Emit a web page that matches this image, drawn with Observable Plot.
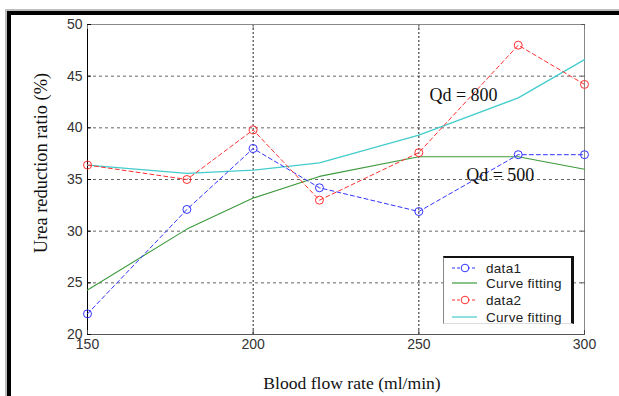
<!DOCTYPE html>
<html>
<head>
<meta charset="utf-8">
<script src="https://cdn.jsdelivr.net/npm/d3@7"></script>
<script src="https://cdn.jsdelivr.net/npm/@observablehq/plot@0.6"></script>
<style>
  html, body { margin: 0; padding: 0; background: #fff; }
  #wrap { position: relative; width: 619px; height: 396px; overflow: hidden; background: #fff; }
  #wrap svg { position: absolute; left: 0; top: 0; }
  .frame-gray { position: absolute; left: 5px; top: 9px; right: -10px; bottom: -10px; border-top: 2px solid #bdbdbd; border-left: 2px solid #bdbdbd; }
  .frame-black { position: absolute; left: 7px; top: 11px; right: -10px; bottom: -10px; border-top: 4px solid #000; border-left: 4px solid #000; }
  .lbl { position: absolute; font-family: "Liberation Serif", "Times New Roman", serif; color: #111; white-space: nowrap; }
  #legend { position: absolute; left: 443px; top: 256px; width: 131px; height: 68px; background: #fff;
            border-top: 2px solid #111; border-right: 3px solid #111; border-left: 1px solid #888; border-bottom: 1px solid #ddd; box-sizing: border-box; }
  .row { position: absolute; left: 0; height: 16px; display: flex; align-items: center; }
  .row span { font-family: "Liberation Sans", Arial, sans-serif; font-size: 13.5px; color: #222; margin-left: 8px; letter-spacing: 0.3px; }
</style>
</head>
<body>
<div id="wrap">
  <div class="frame-gray"></div>
  <div class="frame-black"></div>
</div>
<script>
// ---- data ----
const flowRates = [150, 180, 200, 220, 250, 280, 300];
const data1 = [22.0, 32.1, 38.0, 34.2, 31.9, 37.4, 37.4];      // Qd = 500 measured
const fit1  = [24.3, 30.2, 33.2, 35.3, 37.2, 37.2, 36.0];      // Qd = 500 curve fitting
const data2 = [36.4, 35.0, 39.8, 33.0, 37.6, 48.0, 44.2];      // Qd = 800 measured
const fit2  = [36.4, 35.6, 35.9, 36.6, 39.3, 42.9, 46.6];      // Qd = 800 curve fitting
const xTicks = [150, 200, 250, 300];
const yTicks = [20, 25, 30, 35, 40, 45, 50];
const xGrid = [200, 250];
const yGrid = [25, 30, 35, 40, 45];
const legendLabels = ["data1", "Curve fitting", "data2", "Curve fitting"];
const annotations = ["Qd = 800", "Qd = 500"];

const blue = "#3333ff", red = "#ff3030", green = "#3d9a3d", cyan = "#44cccc";

const rows = (ys) => flowRates.map((x, i) => ({x, y: ys[i]}));
const d1 = rows(data1), f1 = rows(fit1), d2 = rows(data2), f2 = rows(fit2);

const chart = Plot.plot({
  width: 619,
  height: 396,
  marginLeft: 87,
  marginRight: 35,
  marginTop: 24,
  marginBottom: 62,
  style: {background: "transparent", fontFamily: "Liberation Sans, Arial, sans-serif", fontSize: "14px", color: "#333"},
  x: {domain: [150, 300], label: null},
  y: {domain: [20, 50], label: null},
  marks: [
    Plot.gridY(yGrid, {stroke: "#666", strokeOpacity: 1, strokeDasharray: "3,3"}),
    Plot.gridX(xGrid, {stroke: "#222", strokeOpacity: 1, strokeDasharray: "2,2"}),
    Plot.ruleY([50], {stroke: "#888"}),
    Plot.ruleX([300], {stroke: "#888"}),
    Plot.ruleY([20], {stroke: "#555"}),
    Plot.ruleX([150], {stroke: "#000"}),
    Plot.axisX(xTicks, {anchor: "bottom", tickSize: 0, tickPadding: 5, fill: "#333", label: null}),
    Plot.axisX(xTicks, {anchor: "bottom", tickSize: -4, text: null, stroke: "#444", label: null}),
    Plot.axisX(xTicks, {anchor: "top", tickSize: -4, text: null, stroke: "#777", label: null}),
    Plot.axisY(yTicks, {anchor: "left", tickSize: 0, tickPadding: 5, fill: "#333", label: null}),
    Plot.axisY(yTicks, {anchor: "left", tickSize: -4, text: null, stroke: "#000", label: null}),
    Plot.axisY(yTicks, {anchor: "right", tickSize: -4, text: null, stroke: "#555", label: null}),
    Plot.line(f1, {x: "x", y: "y", stroke: green, strokeWidth: 1.1}),
    Plot.line(f2, {x: "x", y: "y", stroke: cyan, strokeWidth: 1.3}),
    Plot.line(d1, {x: "x", y: "y", stroke: blue, strokeWidth: 1, strokeDasharray: "4,3"}),
    Plot.dot(d1, {x: "x", y: "y", stroke: blue, r: 4, strokeWidth: 1}),
    Plot.line(d2, {x: "x", y: "y", stroke: red, strokeWidth: 1, strokeDasharray: "4,3"}),
    Plot.dot(d2, {x: "x", y: "y", stroke: red, r: 4, strokeWidth: 1}),
    Plot.text([annotations[0]], {x: 253.2, y: 43.15, text: d => d, textAnchor: "start", fontSize: 18,
      fontFamily: "Liberation Serif, Times New Roman, serif", fill: "#111"}),
    Plot.text([annotations[1]], {x: 264.3, y: 35.45, text: d => d, textAnchor: "start", fontSize: 18,
      fontFamily: "Liberation Serif, Times New Roman, serif", fill: "#111"})
  ]
});

const wrap = document.getElementById("wrap");
wrap.insertBefore(chart, wrap.firstChild);

// axis titles
const yl = document.createElement("div");
yl.className = "lbl";
yl.textContent = "Urea reduction ratio (%)";
yl.style.fontSize = "18.4px";
yl.style.left = "41px";
yl.style.top = "163px";
yl.style.transform = "translate(-50%, -50%) rotate(-90deg)";
wrap.appendChild(yl);

const xl = document.createElement("div");
xl.className = "lbl";
xl.textContent = "Blood flow rate (ml/min)";
xl.style.fontSize = "17.6px";
xl.style.left = "352px";
xl.style.top = "383px";
xl.style.transform = "translate(-50%, -50%)";
wrap.appendChild(xl);

// legend
const legend = document.createElement("div");
legend.id = "legend";
const legendStyles = [
  {color: blue, dash: "3,2", marker: true},
  {color: green, dash: null, marker: false},
  {color: red, dash: "3,2", marker: true},
  {color: cyan, dash: null, marker: false}
];
const rowTops = [2, 17, 34, 51];
legendLabels.forEach((label, i) => {
  const st = legendStyles[i];
  const row = document.createElement("div");
  row.className = "row";
  row.style.top = rowTops[i] + "px";
  const svg = d3.create("svg").attr("width", 34).attr("height", 16).style("position", "static");
  svg.append("line").attr("x1", 8).attr("x2", 33).attr("y1", 8).attr("y2", 8)
    .attr("stroke", st.color).attr("stroke-width", 1.2)
    .attr("stroke-dasharray", st.dash);
  if (st.marker) {
    svg.append("circle").attr("cx", 21).attr("cy", 8).attr("r", 3.8)
      .attr("fill", "#fff").attr("stroke", st.color).attr("stroke-width", 1);
  }
  row.appendChild(svg.node());
  const sp = document.createElement("span");
  sp.textContent = label;
  row.appendChild(sp);
  legend.appendChild(row);
});
wrap.appendChild(legend);
</script>
</body>
</html>
